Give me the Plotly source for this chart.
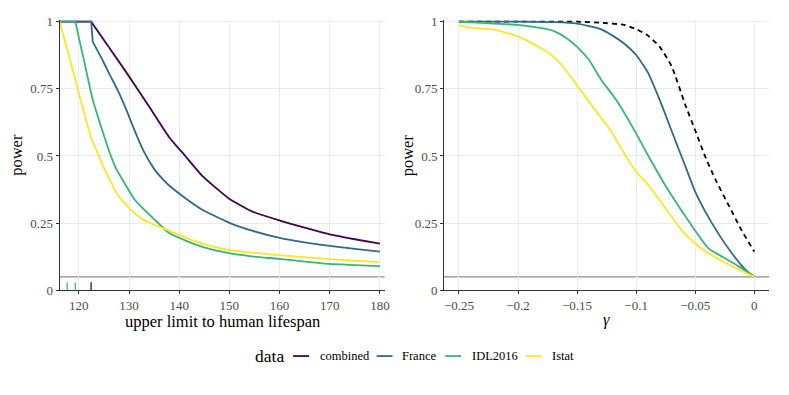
import plotly.graph_objects as go

# ---------------- data: left panel (upper limit to human lifespan) ----------------
combined_x = [116.17, 122.46, 126.0, 129.4, 134.0, 138.0, 141.3, 144.6, 149.9, 154.5, 159.8, 165.0, 170.0, 175.0, 180.0]
combined_y = [1.0, 1.0, 0.905, 0.813, 0.684, 0.570, 0.498, 0.426, 0.342, 0.294, 0.261, 0.233, 0.208, 0.190, 0.174]

france_x = [116.17, 122.46, 122.78, 124.5, 126.1, 128.0, 129.4, 131.0, 133.0, 135.0, 137.0, 138.0, 141.3, 144.6,
            149.9, 154.5, 159.8, 165.0, 170.0, 175.0, 180.0]
france_y = [1.0, 1.0, 0.925, 0.865, 0.805, 0.735, 0.675, 0.600, 0.515, 0.452, 0.408, 0.390, 0.342, 0.300,
            0.252, 0.222, 0.196, 0.178, 0.165, 0.154, 0.144]

idl_x = [116.17, 119.29, 121.0, 122.78, 124.5, 126.1, 127.5, 129.4, 131.0, 132.7, 135.0, 138.0, 141.3, 144.6,
         149.9, 154.5, 159.8, 165.0, 170.0, 175.0, 180.0]
idl_y = [1.0, 1.0, 0.858, 0.709, 0.605, 0.515, 0.450, 0.390, 0.340, 0.306, 0.265, 0.213, 0.185, 0.162,
         0.138, 0.126, 0.117, 0.107, 0.098, 0.094, 0.090]

istat_x = [116.17, 118.0, 119.5, 121.0, 122.5, 123.9, 125.0, 126.1, 127.5, 129.4, 131.0, 132.7, 135.0, 138.0,
           141.3, 144.6, 149.9, 154.5, 159.8, 165.0, 170.0, 175.0, 180.0]
istat_y = [1.0, 0.875, 0.769, 0.665, 0.565, 0.505, 0.455, 0.414, 0.362, 0.318, 0.288, 0.264, 0.244, 0.222,
           0.196, 0.174, 0.150, 0.140, 0.131, 0.123, 0.116, 0.110, 0.1045]

# rug values (observed maxima) per dataset
rug_combined = [122.46]
rug_france = [122.46]
rug_idl = [117.67, 119.29]

# ---------------- data: right panel (gamma) ----------------
g_comb_x = [-0.25, -0.2, -0.15, -0.13, -0.11, -0.10, -0.09, -0.08, -0.07, -0.0584, -0.05, -0.0416, -0.0331,
            -0.0219, -0.0106, 0.0]
g_comb_y = [1.0, 1.0, 1.0, 0.996, 0.988, 0.972, 0.948, 0.906, 0.834, 0.690, 0.595, 0.498, 0.414,
            0.318, 0.222, 0.144]

g_fr_x = [-0.25, -0.2, -0.17, -0.15, -0.13, -0.12, -0.11, -0.10, -0.09, -0.0796, -0.067, -0.0584, -0.05,
          -0.0416, -0.0303, -0.019, -0.0078, 0.0]
g_fr_y = [1.0, 1.0, 0.998, 0.993, 0.972, 0.948, 0.918, 0.876, 0.810, 0.703, 0.559, 0.462, 0.366,
          0.294, 0.210, 0.138, 0.078, 0.05]

g_idl_x = [-0.25, -0.22, -0.2, -0.18, -0.17, -0.16, -0.15, -0.14, -0.13, -0.116, -0.1005, -0.0894, -0.0753,
           -0.0612, -0.05, -0.0388, -0.0275, -0.0135, 0.0]
g_idl_y = [1.0, 0.993, 0.988, 0.976, 0.966, 0.942, 0.906, 0.858, 0.786, 0.703, 0.588, 0.498, 0.390,
           0.294, 0.222, 0.156, 0.126, 0.090, 0.05]

g_ist_x = [-0.25, -0.24, -0.22, -0.2, -0.18, -0.17, -0.16, -0.15, -0.134, -0.1216, -0.112, -0.1005, -0.0894,
           -0.0753, -0.0612, -0.05, -0.0388, -0.0219, -0.0106, 0.0]
g_ist_y = [0.986, 0.978, 0.970, 0.945, 0.900, 0.870, 0.822, 0.762, 0.667, 0.595, 0.523, 0.444, 0.390,
           0.306, 0.222, 0.174, 0.138, 0.096, 0.072, 0.05]

alpha_level = 0.05
y_ticks = [0, 0.25, 0.5, 0.75, 1]
x_ticks_left = [120, 130, 140, 150, 160, 170, 180]
x_ticks_right = [-0.25, -0.2, -0.15, -0.1, -0.05, 0]

names = ["combined", "France", "IDL2016", "Istat"]
colors = ["#440154", "#31688E", "#35B779", "#FDE725"]

FONT = "Liberation Serif"
LW = 1.8
W, H = 789, 395
SMOOTH = dict(shape="spline", smoothing=0.5)

fig = go.Figure()

left_series = [(combined_x, combined_y), (france_x, france_y), (idl_x, idl_y), (istat_x, istat_y)]
for (xs, ys), nm, col in zip(left_series, names, colors):
    # keep the flat-then-drop start sharp: linear part up to the first drop, spline after
    k = 1 if ys[1] == 1.0 else 0
    fig.add_trace(go.Scatter(x=xs[:k + 2], y=ys[:k + 2], mode="lines", name=nm,
                             line=dict(color=col, width=LW), xaxis="x", yaxis="y", legendgroup=nm))
    fig.add_trace(go.Scatter(x=xs[k + 1:], y=ys[k + 1:], mode="lines", name=nm,
                             line=dict(color=col, width=LW, **SMOOTH), xaxis="x", yaxis="y",
                             legendgroup=nm))

fig.add_trace(go.Scatter(x=g_comb_x, y=g_comb_y, mode="lines", name="combined",
                         line=dict(color="black", width=LW, dash="5px,4px", **SMOOTH),
                         xaxis="x2", yaxis="y2"))
right_series = [(g_fr_x, g_fr_y), (g_idl_x, g_idl_y), (g_ist_x, g_ist_y)]
for (xs, ys), nm, col in zip(right_series, names[1:], colors[1:]):
    fig.add_trace(go.Scatter(x=xs, y=ys, mode="lines", name=nm, line=dict(color=col, width=LW, **SMOOTH),
                             xaxis="x2", yaxis="y2", legendgroup=nm))

shapes = []
# horizontal reference line at the significance level
for xr, yr in [("x domain", "y"), ("x2 domain", "y2")]:
    shapes.append(dict(type="line", xref=xr, yref=yr, x0=0, x1=1, y0=alpha_level, y1=alpha_level,
                       line=dict(color="#8c8c8c", width=1.2), layer="below"))
# rugs
for vals, col in [(rug_combined, colors[0]), (rug_france, colors[1]), (rug_idl, colors[2])]:
    for v in vals:
        shapes.append(dict(type="line", xref="x", yref="y domain", x0=v, x1=v, y0=0, y1=0.03,
                           line=dict(color=col, width=1.2)))

annotations = [
    dict(text="upper limit to human lifespan", xref="paper", yref="paper",
         x=(60 + 387) / 2 / W, y=1 - 327 / H, xanchor="center", yanchor="middle",
         showarrow=False, font=dict(family=FONT, size=16.5, color="black")),
    dict(text="<i>γ</i>", xref="paper", yref="paper",
         x=(447 + 774) / 2 / W, y=1 - 325 / H, xanchor="center", yanchor="middle",
         showarrow=False, font=dict(family=FONT, size=16.5, color="black")),
    dict(text="power", xref="paper", yref="paper", x=17 / W, y=1 - 155 / H, textangle=-90,
         xanchor="center", yanchor="middle", showarrow=False,
         font=dict(family=FONT, size=16.5, color="black")),
    dict(text="power", xref="paper", yref="paper", x=410 / W, y=1 - 155 / H, textangle=-90,
         xanchor="center", yanchor="middle", showarrow=False,
         font=dict(family=FONT, size=16.5, color="black")),
]

# legend (drawn as keys + labels, ggplot style)
leg_y = 1 - 363 / H
key_starts = [295, 379, 448, 529]
label_starts = [320, 403, 473, 554]
annotations.append(dict(text="data", xref="paper", yref="paper", x=255 / W, y=leg_y,
                        xanchor="left", yanchor="middle", showarrow=False,
                        font=dict(family=FONT, size=17.5, color="black")))
for nm, col, ks, ls in zip(names, colors, key_starts, label_starts):
    shapes.append(dict(type="line", xref="paper", yref="paper", x0=ks / W, x1=(ks + 16) / W,
                       y0=leg_y, y1=leg_y, line=dict(color=col, width=LW)))
    annotations.append(dict(text=nm, xref="paper", yref="paper", x=ls / W, y=leg_y,
                            xanchor="left", yanchor="middle", showarrow=False,
                            font=dict(family=FONT, size=12.5, color="black")))

axis_common = dict(showgrid=True, gridcolor="#ebebeb", gridwidth=1, zeroline=False,
                   showline=True, linecolor="#333333", linewidth=1.2,
                   ticks="outside", ticklen=3, tickcolor="#333333", tickwidth=1,
                   tickfont=dict(family=FONT, size=13, color="#4d4d4d"))

dom_y = [1 - 295 / H, 1 - 15 / H]
fig.update_layout(
    width=W, height=H,
    margin=dict(l=0, r=0, t=0, b=0),
    paper_bgcolor="white", plot_bgcolor="white",
    font=dict(family=FONT, color="black"),
    xaxis=dict(domain=[60 / W, 387 / W], range=[116.17, 180.93], tickvals=x_ticks_left, anchor="y",
               **axis_common),
    yaxis=dict(domain=dom_y, range=[0, 1.008], tickvals=y_ticks, anchor="x", **axis_common),
    xaxis2=dict(domain=[447 / W, 774 / W], range=[-0.2625, 0.0125], tickvals=x_ticks_right,
                anchor="y2", **axis_common),
    yaxis2=dict(domain=dom_y, range=[0, 1.008], tickvals=y_ticks, anchor="x2", **axis_common),
    shapes=shapes,
    annotations=annotations,
    showlegend=False,
)

page_css = ("document.body.style.margin='0';"
            "document.body.style.overflow='hidden';"
            "document.documentElement.style.overflow='hidden';")
fig.write_html("out.html", config={"displayModeBar": False}, post_script=page_css)
